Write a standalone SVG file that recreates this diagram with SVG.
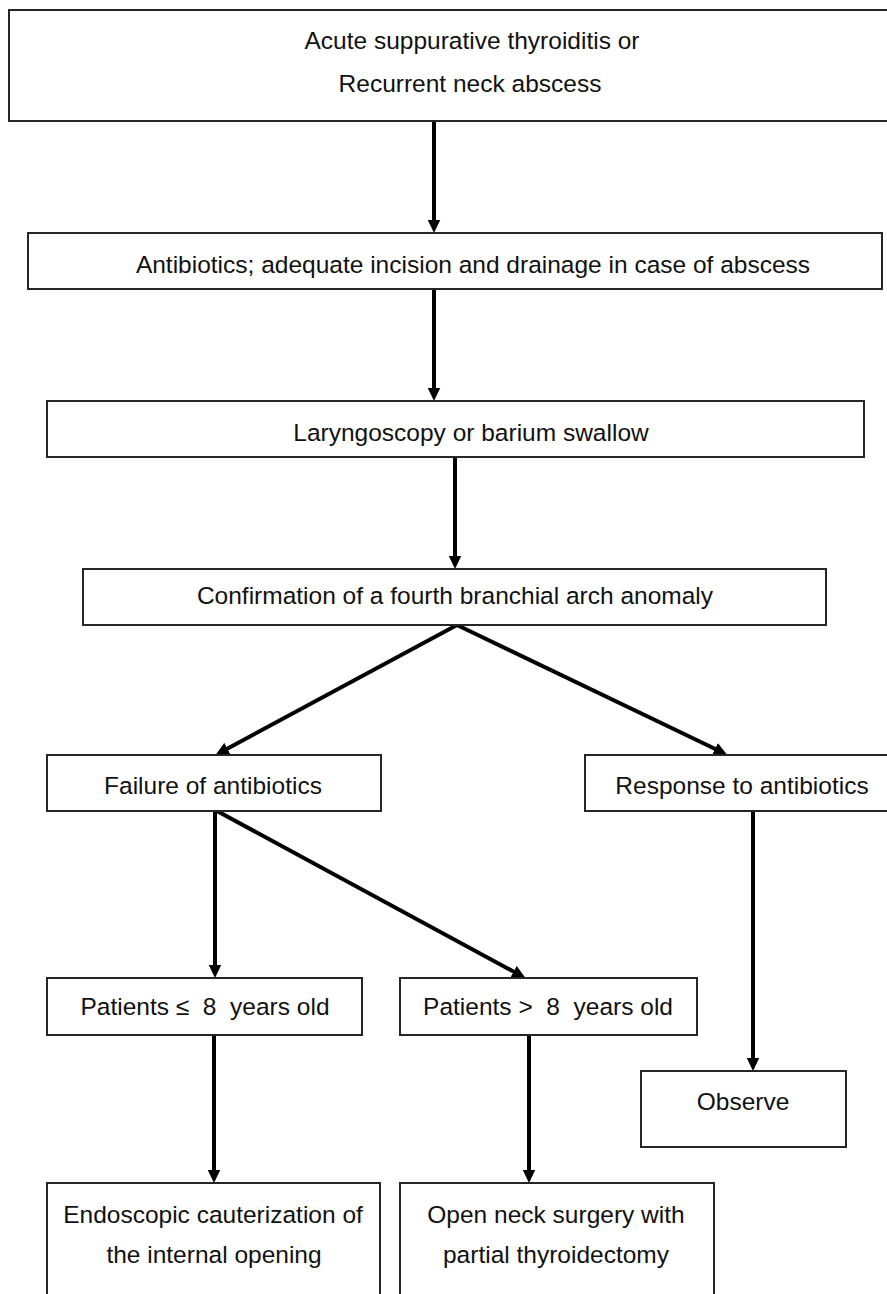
<svg xmlns="http://www.w3.org/2000/svg" width="887" height="1294" viewBox="0 0 887 1294">
<defs>
<style>
.box{fill:#fff;stroke:#262626;stroke-width:2}
.t{font-family:"Liberation Sans",Arial,sans-serif;font-size:24.5px;fill:#111;text-anchor:middle}
.c{stroke:#000;stroke-width:4;fill:none;marker-end:url(#ah)}
</style>
<marker id="ah" markerUnits="userSpaceOnUse" markerWidth="14" markerHeight="13" viewBox="0 0 14 13" refX="5" refY="6.5" orient="auto">
<path d="M0,0 L13.5,6.5 L0,13 z" fill="#000"/>
</marker>
</defs>
<rect width="887" height="1294" fill="#fff"/>
<g id="connectors">
<line class="c" x1="434" y1="121" x2="434" y2="224.5"/>
<line class="c" x1="434" y1="289" x2="434" y2="392.5"/>
<line class="c" x1="455" y1="457" x2="455" y2="560.5"/>
<line class="c" x1="457" y1="625" x2="223" y2="751"/>
<line class="c" x1="457" y1="625" x2="719.5" y2="751"/>
<line class="c" x1="215" y1="811" x2="215" y2="969.5"/>
<line class="c" x1="217" y1="811" x2="518" y2="974"/>
<line class="c" x1="753" y1="811" x2="753" y2="1062.5"/>
<line class="c" x1="214" y1="1035" x2="214" y2="1174.5"/>
<line class="c" x1="529" y1="1035" x2="529" y2="1174.5"/>
</g>
<g id="n1"><rect class="box" x="9" y="10" width="890" height="111"/>
<text class="t" x="472" y="49">Acute suppurative thyroiditis or</text>
<text class="t" x="470" y="92">Recurrent neck abscess</text></g>
<g id="n2"><rect class="box" x="28" y="233" width="854" height="56"/>
<text class="t" x="473" y="273">Antibiotics; adequate incision and drainage in case of abscess</text></g>
<g id="n3"><rect class="box" x="47" y="401" width="817" height="56"/>
<text class="t" x="471" y="441">Laryngoscopy or barium swallow</text></g>
<g id="n4"><rect class="box" x="83" y="569" width="743" height="56"/>
<text class="t" x="455" y="604">Confirmation of a fourth branchial arch anomaly</text></g>
<g id="n5"><rect class="box" x="47" y="755" width="334" height="56"/>
<text class="t" x="213" y="794">Failure of antibiotics</text></g>
<g id="n6"><rect class="box" x="585" y="755" width="310" height="56"/>
<text class="t" x="742" y="794">Response to antibiotics</text></g>
<g id="n7"><rect class="box" x="47" y="978" width="315" height="57"/>
<text class="t" x="205" y="1015" xml:space="preserve">Patients ≤  8  years old</text></g>
<g id="n8"><rect class="box" x="400" y="978" width="297" height="57"/>
<text class="t" x="548" y="1015" xml:space="preserve">Patients &gt;  8  years old</text></g>
<g id="n9"><rect class="box" x="641" y="1071" width="205" height="76"/>
<text class="t" x="743" y="1110">Observe</text></g>
<g id="n10"><rect class="box" x="47" y="1183" width="333" height="130"/>
<text class="t" x="213" y="1223">Endoscopic cauterization of</text>
<text class="t" x="214" y="1263">the internal opening</text></g>
<g id="n11"><rect class="box" x="400" y="1183" width="314" height="130"/>
<text class="t" x="556" y="1223">Open neck surgery with</text>
<text class="t" x="556" y="1263">partial thyroidectomy</text></g>
</svg>
